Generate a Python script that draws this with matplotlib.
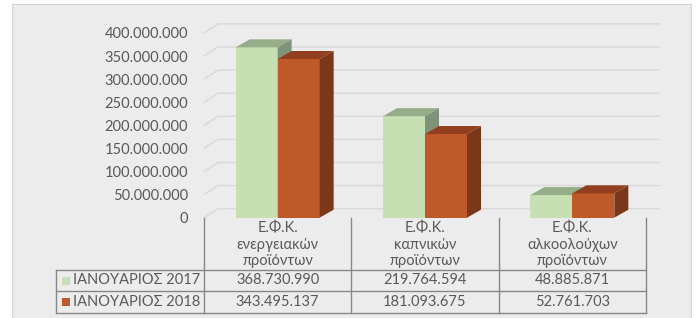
import matplotlib
matplotlib.use("Agg")
import matplotlib.pyplot as plt
from matplotlib.patches import Rectangle, Polygon

# ---- data ----
categories = ["Ε.Φ.Κ.\nενεργειακών\nπροϊόντων",
              "Ε.Φ.Κ.\nκαπνικών\nπροϊόντων",
              "Ε.Φ.Κ.\nαλκοολούχων\nπροϊόντων"]
series_names = ["ΙΑΝΟΥΑΡΙΟΣ 2017", "ΙΑΝΟΥΑΡΙΟΣ 2018"]
values_2017 = [368730990, 219764594, 48885871]
values_2018 = [343495137, 181093675, 52761703]
yticks = [0, 50e6, 100e6, 150e6, 200e6, 250e6, 300e6, 350e6, 400e6]

plt.rcParams['font.family'] = ['Lato', 'Liberation Sans', 'DejaVu Sans']
TXT = '#595959'
FS = 10.5

W, H = 696, 318
fig = plt.figure(figsize=(W / 100, H / 100), dpi=100)
fig.patch.set_facecolor('white')

def fx(px):
    return px / W

def fy(py):
    return 1 - py / H

# grey panel
fig.patches.append(Rectangle((fx(12), fy(320)), fx(691) - fx(12), fy(4) - fy(320),
                             transform=fig.transFigure, fc='#ececec', ec='#d4d4d4', lw=0.8, zorder=-10))

# ---- main chart axes (front plane) ----
X0, X1 = 204, 646        # pixel x of category span
Y0, YT = 217.7, 32.9     # pixel y of value 0 and 400M (front plane)
ax = fig.add_axes([fx(X0), fy(Y0), fx(X1) - fx(X0), fy(YT) - fy(Y0)])
ax.set_xlim(-0.5, 2.5)
ax.set_ylim(0, 400e6)
ax.patch.set_alpha(0)
for s in ax.spines.values():
    s.set_visible(False)
ax.set_xticks([])
ax.set_yticks(yticks)
ax.set_yticklabels([f"{int(v):,}".replace(',', '.') for v in yticks])
ax.tick_params(axis='y', length=0, pad=11.5, labelsize=FS, labelcolor=TXT)

px_per_x = (X1 - X0) / 3.0
px_per_v = (Y0 - YT) / 400e6
dx = 14 / px_per_x
dy = 9 / px_per_v
bdx = 14 / px_per_x
bdy = 8 / px_per_v

# gridlines: left wall diagonal + back wall line
for v in yticks:
    ax.plot([-0.5, -0.5 + dx, 2.5 + dx], [v, v + dy, v + dy], color='#d9d9d9',
            lw=1.1, clip_on=False, zorder=1, solid_capstyle='butt')

w = 42 / px_per_x
colors = [('#c6e0b4', '#95ad88', '#80937a'),
          ('#bf592a', '#923f1f', '#7b3719')]

for i in range(len(categories)):
    for k, vals in enumerate([values_2017, values_2018]):
        h = vals[i]
        x0 = i - w if k == 0 else i
        x1 = x0 + w
        front, top, side = colors[k]
        z = 3 + k
        ax.add_patch(Rectangle((x0, 0), w, h, fc=front, ec='none', zorder=z, clip_on=False))
        ax.add_patch(Polygon([(x0, h), (x1, h), (x1 + bdx, h + bdy), (x0 + bdx, h + bdy)],
                             closed=True, fc=top, ec='none', zorder=z, clip_on=False))
        ax.add_patch(Polygon([(x1, 0), (x1 + bdx, bdy), (x1 + bdx, h + bdy), (x1, h)],
                             closed=True, fc=side, ec='none', zorder=z, clip_on=False))

# ---- data table ----
TL, TB = 55.7, 312.7
tax = fig.add_axes([fx(TL), fy(TB), fx(X1) - fx(TL), fy(Y0) - fy(TB)])
xl = -0.5 - (X0 - TL) / px_per_x
tax.set_xlim(xl, 2.5)
tax.set_ylim(TB - Y0, 0)
tax.axis('off')

LC = '#878787'
r1, r2, r3 = 270 - Y0, 291 - Y0, TB - Y0
for k in range(4):
    tax.plot([-0.5 + k, -0.5 + k], [0, r3], color=LC, lw=1.0, clip_on=False)
for yy in (r1, r2, r3):
    tax.plot([xl, 2.5], [yy, yy], color=LC, lw=1.0, clip_on=False)
tax.plot([xl, xl], [r1, r3], color=LC, lw=1.0, clip_on=False)

line_y = [10.8, 27.2, 43.6]
for i, lab in enumerate(categories):
    for j, part in enumerate(lab.split('\n')):
        tax.text(i, line_y[j], part, ha='center', va='center', fontsize=FS, color=TXT)

row_y = [(r1 + r2) / 2, (r2 + r3) / 2]
sq = 8 / px_per_x
for k, (name, vals) in enumerate(zip(series_names, [values_2017, values_2018])):
    yc = row_y[k]
    tax.add_patch(Rectangle((xl + 6.5 / px_per_x, yc - 4), sq, 8, fc=colors[k][0], ec='none'))
    tax.text(xl + 17.5 / px_per_x, yc, name, ha='left', va='center', fontsize=FS, color=TXT)
    for i, v in enumerate(vals):
        tax.text(i, yc, f"{v:,}".replace(',', '.'), ha='center', va='center', fontsize=FS, color=TXT)

fig.savefig('out.png', dpi=100)
